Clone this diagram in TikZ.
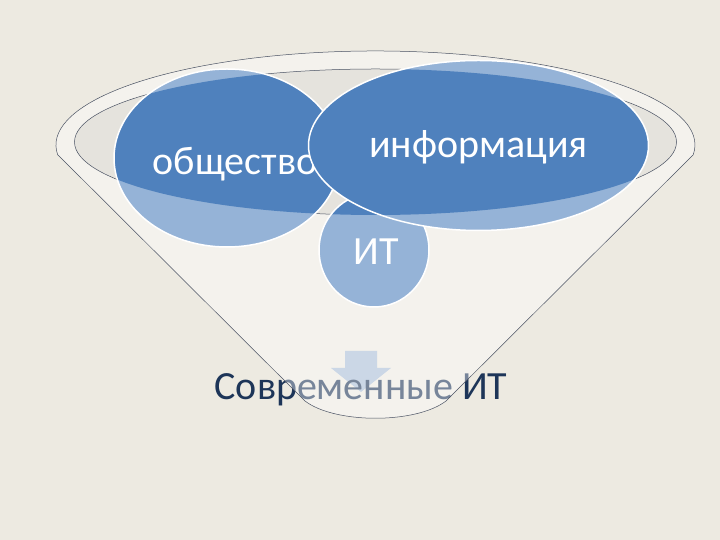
\documentclass[tikz,border=0pt]{standalone}
\usepackage{fontspec}
\setmainfont{Carlito}
\definecolor{slidebg}{HTML}{EDEAE1}
\definecolor{mouthfill}{HTML}{E5E3DD}
\definecolor{rimline}{HTML}{4A5263}
\definecolor{darkblob}{HTML}{4F81BD}
\definecolor{lightblob}{HTML}{95B3D7}
\definecolor{arrowfill}{HTML}{A9BDD6}
\definecolor{resultblue}{HTML}{1D3558}
\begin{document}
\begin{tikzpicture}[x=1pt,y=1pt,
  funnelline/.style={draw=rimline, line width=0.5pt},
  blobedge/.style={draw=white, line width=1.5pt},
  blobtext/.style={text=white, font=\fontsize{40}{48}\selectfont, inner sep=0pt},
  resulttext/.style={text=resultblue, font=\fontsize{40}{48}\selectfont, inner sep=0pt}]
% Background
\fill[slidebg] (0,0) rectangle (720,540);
\useasboundingbox (0,0) rectangle (720,540);
\coordinate (mouth) at (375.5,398);
\coordinate (lefttop) at (57.8,385.2);
\coordinate (righttop) at (693.2,385.2);
\coordinate (leftbot) at (305,139);
\coordinate (rightbot) at (446,139);
% Arrow and result under the funnel
\fill[arrowfill] (345,189) -- (377,189) -- (377,172) -- (391,172) -- (361,148)
  -- (331,172) -- (345,172) -- cycle;
\node[resulttext, anchor=base] (result) at (361,140) {Современные ИТ};
% Funnel body
\path[funnelline, fill=white, fill opacity=0.4] (lefttop) -- (leftbot)
  .. controls (335,116) and (416,116) .. (rightbot) -- (righttop)
  arc [start angle=-6, end angle=186, x radius=319.5, y radius=94] -- cycle;
% Funnel mouth
\draw[funnelline, fill=mouthfill] (mouth) ellipse [x radius=301, y radius=73];
% Circles, dark inside the mouth
\foreach \name/\cx/\cy/\rx/\ry/\tx/\ty/\txt in
  {it/374/290/55/57/376/275/ИТ,
   soc/227/382/113/89/235/365/общество,
   info/478.5/394.5/170/85/478.5/382/информация} {
  \fill[lightblob] (\cx,\cy) ellipse [x radius=\rx, y radius=\ry];
  \begin{scope}
    \clip (mouth) ellipse [x radius=301, y radius=73];
    \fill[darkblob] (\cx,\cy) ellipse [x radius=\rx, y radius=\ry];
  \end{scope}
  \draw[blobedge] (\cx,\cy) ellipse [x radius=\rx, y radius=\ry];
  \node[blobtext, anchor=base] (\name) at (\tx,\ty) {\txt};
}
\end{tikzpicture}
\end{document}
